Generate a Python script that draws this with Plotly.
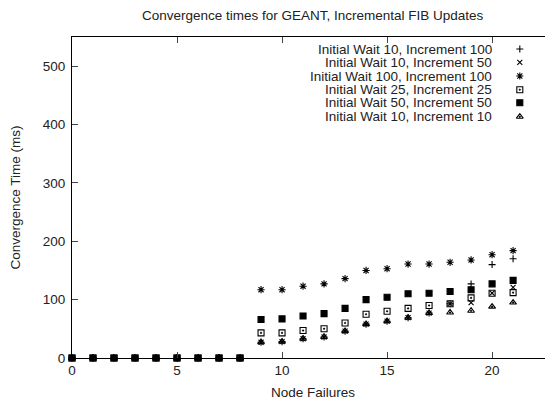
import plotly.graph_objects as go

node_failures = list(range(0, 22))
zeros = [0] * 9
wait10_inc100 = zeros + [27, 28, 33, 36, 46, 58, 63, 69, 77, 93, 127, 160, 170]
wait10_inc50 = zeros + [27, 28, 33, 36, 46, 58, 63, 69, 77, 93, 95, 111, 121]
wait100_inc100 = zeros + [117, 117, 123, 127, 136, 150, 153, 161, 161, 164, 168, 177, 184]
wait25_inc25 = zeros + [43, 43, 47, 50, 60, 75, 80, 85, 90, 93, 103, 111, 112]
wait50_inc50 = zeros + [66, 67, 72, 76, 85, 100, 104, 110, 111, 114, 117, 127, 133]
wait10_inc10 = zeros + [27, 28, 33, 36, 46, 58, 63, 69, 77, 78, 81, 88, 95]

series_names = [
    "Initial Wait 10, Increment 100",
    "Initial Wait 10, Increment 50",
    "Initial Wait 100, Increment 100",
    "Initial Wait 25, Increment 25",
    "Initial Wait 50, Increment 50",
    "Initial Wait 10, Increment 10",
]
series_values = [wait10_inc100, wait10_inc50, wait100_inc100, wait25_inc25, wait50_inc50, wait10_inc10]
symbols = ["cross-thin-open", "x-thin-open", "asterisk-open", "square-open-dot", "square", "triangle-up-open-dot"]
sizes = [5, 5, 6, 6, 6, 6]

x_ticks = [0, 5, 10, 15, 20]
y_ticks = [0, 100, 200, 300, 400, 500]

fig = go.Figure()
for name, vals, sym, sz in zip(series_names, series_values, symbols, sizes):
    fig.add_trace(go.Scatter(
        x=node_failures, y=vals, mode="markers", name=name, showlegend=False,
        cliponaxis=False,
        marker=dict(symbol=sym, size=sz, color="black", line=dict(color="black", width=1.1)),
    ))

# gnuplot-style key: text right-aligned, symbol to the right
key_x_sym = 0.931
key_x_text = 0.875
key_rows = [0.9626, 0.9209, 0.8785, 0.8358, 0.7953, 0.7517]
for name, sym, sz, ky in zip(series_names, symbols, sizes, key_rows):
    fig.add_trace(go.Scatter(
        x=[key_x_sym], y=[ky], xaxis="x2", yaxis="y2", mode="markers", showlegend=False,
        cliponaxis=False, hoverinfo="skip",
        marker=dict(symbol=sym, size=sz, color="black", line=dict(color="black", width=1.1)),
    ))
    fig.add_annotation(
        x=key_x_text, y=ky, xref="paper", yref="paper", text=name, showarrow=False,
        xanchor="right", yanchor="middle", font=dict(size=13.5, color="#222"),
        borderpad=0,
    )

fig.add_annotation(x=0.5, y=-0.108, xref="paper", yref="paper", text="Node Failures",
                   showarrow=False, xanchor="center", yanchor="middle",
                   font=dict(size=13.5, color="#222"))
fig.add_annotation(x=-0.1185, y=0.5, xref="paper", yref="paper", text="Convergence Time (ms)",
                   showarrow=False, xanchor="center", yanchor="middle", textangle=-90,
                   font=dict(size=13.5, color="#222"))

fig.update_layout(
    width=545, height=395,
    margin=dict(l=64, r=0, t=29, b=45),
    paper_bgcolor="white", plot_bgcolor="white",
    font=dict(family="Liberation Sans, Arial, sans-serif", size=13.5, color="#222"),
    title=dict(text="Convergence times for GEANT, Incremental FIB Updates",
               x=0.559, xref="container", xanchor="center",
               y=0.982, yref="container", yanchor="middle",
               font=dict(size=13.5, color="#222")),
    xaxis=dict(range=[0, 22.9], tickvals=x_ticks, ticks="inside", ticklen=6,
               showline=True, linecolor="black", linewidth=1.2, mirror="ticks",
               showgrid=False, zeroline=False),
    yaxis=dict(range=[0, 550], tickvals=y_ticks, ticks="inside", ticklen=6,
               showline=True, linecolor="black", linewidth=1.2, mirror=False,
               showgrid=False, zeroline=False, ticklabelstandoff=3),
    xaxis2=dict(overlaying="x", range=[0, 1], visible=False),
    yaxis2=dict(overlaying="y", range=[0, 1], visible=False),
)

fig.write_html("out.html")
